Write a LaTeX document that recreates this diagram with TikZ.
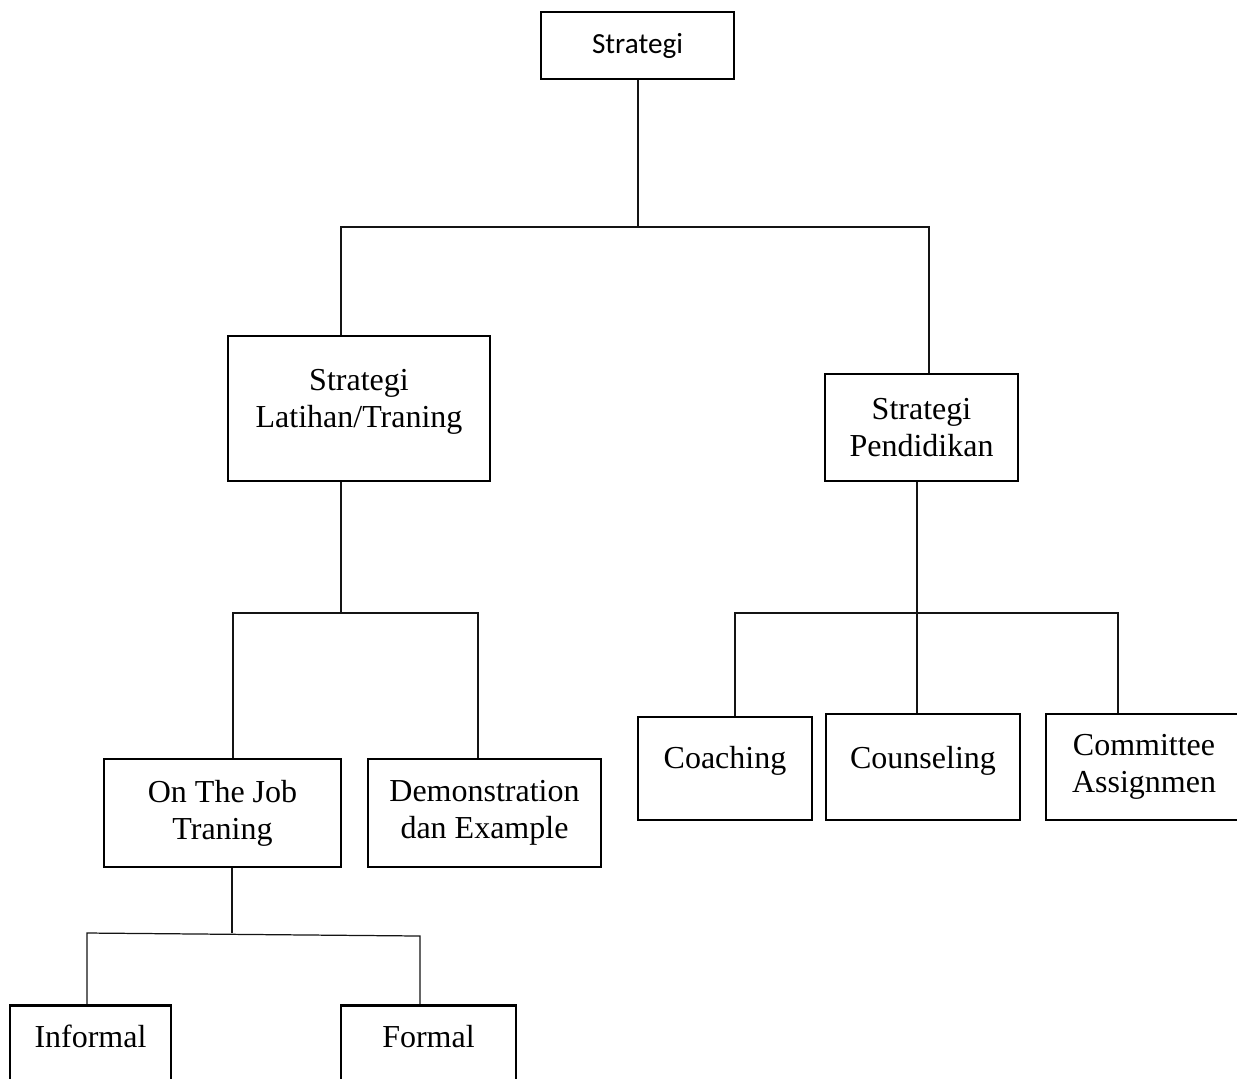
\documentclass[tikz,border=0pt]{standalone}
\usepackage{fontspec}
\setmainfont{Liberation Serif}
\newfontfamily\calibri{Carlito}
\usepackage{tikz}
\usetikzlibrary{positioning}
\definecolor{lineblack}{RGB}{20,20,20}
\tikzstyle{box} = [rectangle, draw=black, line width=0.8pt, align=center, text centered, font=\fontsize{9.1}{10.6}\selectfont]
\tikzstyle{link} = [line width=0.35pt, color=lineblack]

\begin{document}
\begin{tikzpicture}[x=0.01cm, y=-0.01cm]
\useasboundingbox (0,0) rectangle (1237,1078);
\node[box, minimum width=1.93cm, minimum height=0.67cm, font=\calibri\fontsize{8.3}{10}\selectfont] (strat) at (637.5,45.5) {Strategi};
\node[box, minimum width=2.62cm, minimum height=1.45cm, text depth=0.2cm] (latih) at (359,408.5) {Strategi\\Latihan/Traning};
\node[box, minimum width=1.93cm, minimum height=1.07cm] (pend) at (921.5,427.5) {Strategi\\Pendidikan};
\node[box, minimum width=2.37cm, minimum height=1.08cm] (ojt) at (222.5,813) {On The Job\\Traning};
\node[box, minimum width=2.33cm, minimum height=1.08cm] (demo) at (484.5,813) {Demonstration\\dan Example};
\node[box, minimum width=1.74cm, minimum height=1.03cm, text depth=0.22cm] (coach) at (725,768.5) {Coaching};
\node[box, minimum width=1.94cm, minimum height=1.06cm, text depth=0.2cm] (couns) at (923,767) {Counseling};
\node[box, minimum width=1.96cm, minimum height=1.06cm] (comm) at (1144,767) {Committee\\Assignmen};
\node[box, anchor=north, minimum width=1.61cm, text height=0.3cm, text depth=0.6cm] (inf) at (90.5,1004) {Informal};
\node[box, anchor=north, minimum width=1.75cm, text height=0.3cm, text depth=0.6cm] (form) at (428.5,1004) {Formal};

\coordinate (j0) at (638,227);
\coordinate (jL) at (341,227);
\coordinate (jR) at (929,227);
\draw[link] (strat.south -| j0) -- (j0);
\draw[link] (latih.north -| jL) -- (jL) -- (jR) -- (pend.north -| jR);

\coordinate (jA) at (341,613);
\coordinate (jA1) at (233,613);
\coordinate (jA2) at (478,613);
\draw[link] (latih.south -| jA) -- (jA);
\draw[link] (ojt.north -| jA1) -- (jA1) -- (jA2) -- (demo.north -| jA2);

\coordinate (jB) at (917,613);
\coordinate (jB1) at (735,613);
\coordinate (jB3) at (1118,613);
\draw[link] (pend.south -| jB) -- (jB) -- (couns.north -| jB);
\draw[link] (coach.north -| jB1) -- (jB1) -- (jB3) -- (comm.north -| jB3);

\coordinate (jC) at (232,933);
\coordinate (jC1) at (87,933);
\coordinate (jC2) at (420,936);
\draw[link] (ojt.south -| jC) -- (jC);
\draw[link] (inf.north -| jC1) -- (jC1) -- (jC2) -- (form.north -| jC2);
\end{tikzpicture}
\end{document}
